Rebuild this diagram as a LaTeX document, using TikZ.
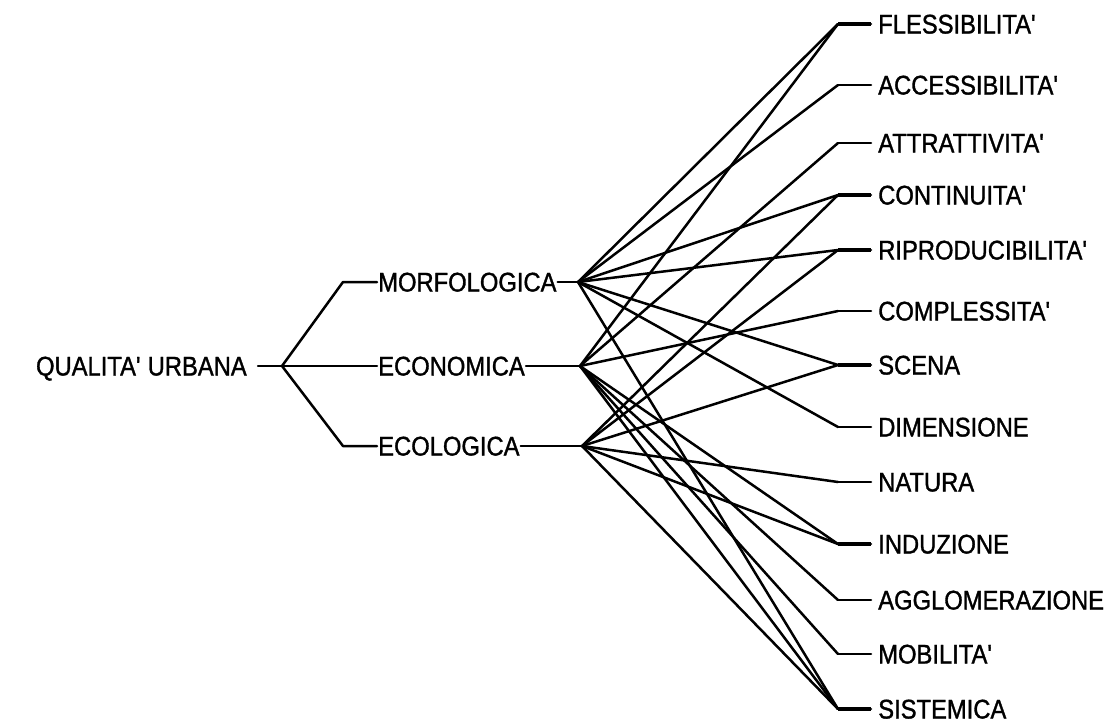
\documentclass[tikz,border=0pt]{standalone}
\usepackage{fontspec}
\setmainfont{Liberation Sans}[FakeStretch=0.88, FakeBold=1.2]
\usetikzlibrary{positioning}

\newcommand{\ap}{\textquotesingle}

\begin{document}
\begin{tikzpicture}[
		x=1pt, y=-1pt,
		line width=2.5pt,
		line cap=round,
		line join=round,
		every node/.style={font=\fontsize{27}{30}\selectfont},
		word/.style={
			inner sep=0pt,
			text height=19pt,
			text depth=0pt
		},
		item/.style={
			word,
			anchor=west
		},
		multistub/.style={line width=4.2pt, line cap=butt}
		]
		
		\useasboundingbox (0,0) rectangle (1110,724);
		
		\node[word, anchor=east] (root) at (248,366) {QUALITA\ap{} URBANA};
		
		\node[item] (morf) at (377,282) {MORFOLOGICA};
		\node[item] (econ) at (377,366) {ECONOMICA};
		\node[item] (ecol) at (377,446) {ECOLOGICA};
		
		\coordinate (fork) at (282,366);
		\coordinate (morf-knee) at (343,282);
		\coordinate (ecol-knee) at (343,446);
		
		\coordinate (morf-hub) at (578,282);
		\coordinate (econ-hub) at (580,366);
		\coordinate (ecol-hub) at (582,446);
		
		% right column
		\foreach \name/\ypos/\txt in {
			fless/24/FLESSIBILITA\ap,
			access/85/ACCESSIBILITA\ap,
			attratt/143/ATTRATTIVITA\ap,
			contin/195/CONTINUITA\ap,
			riprod/250/RIPRODUCIBILITA\ap,
			compl/311/COMPLESSITA\ap,
			scena/365/SCENA,
			dimens/427/DIMENSIONE,
			natura/482/NATURA,
			induz/544/INDUZIONE,
			agglom/600/AGGLOMERAZIONE,
			mobil/654/MOBILITA\ap,
			sistem/709/SISTEMICA}
		{
			\coordinate (\name-in) at (838,\ypos);
			\node[item, right=39pt of \name-in] (\name) {\txt};
			\draw[shorten >=6pt] (\name-in) -- (\name.west);
		}
		
		\foreach \name in {fless,contin,riprod,scena,induz,sistem}
		\draw[multistub, shorten >=6pt] (\name-in) -- (\name.west);
		
		%%%%%%%%%%
		
		\draw[shorten <=10pt] (root.east) -- (fork);
		\draw (fork) -- (morf-knee) -- (morf.west);
		\draw (fork) -- (econ.west);
		\draw (fork) -- (ecol-knee) -- (ecol.west);
		
		\draw (morf.east) -- (morf-hub);
		\draw (econ.east) -- (econ-hub);
		\draw (ecol.east) -- (ecol-hub);
		
		\foreach \t in {fless,access,contin,riprod,scena,dimens,sistem}
		\draw (morf-hub) -- (\t-in);
		
		\foreach \t in {fless,attratt,compl,induz,agglom,mobil,sistem}
		\draw (econ-hub) -- (\t-in);
		
		\foreach \t in {contin,riprod,scena,natura,induz,sistem}
		\draw (ecol-hub) -- (\t-in);
		
	\end{tikzpicture}
\end{document}
